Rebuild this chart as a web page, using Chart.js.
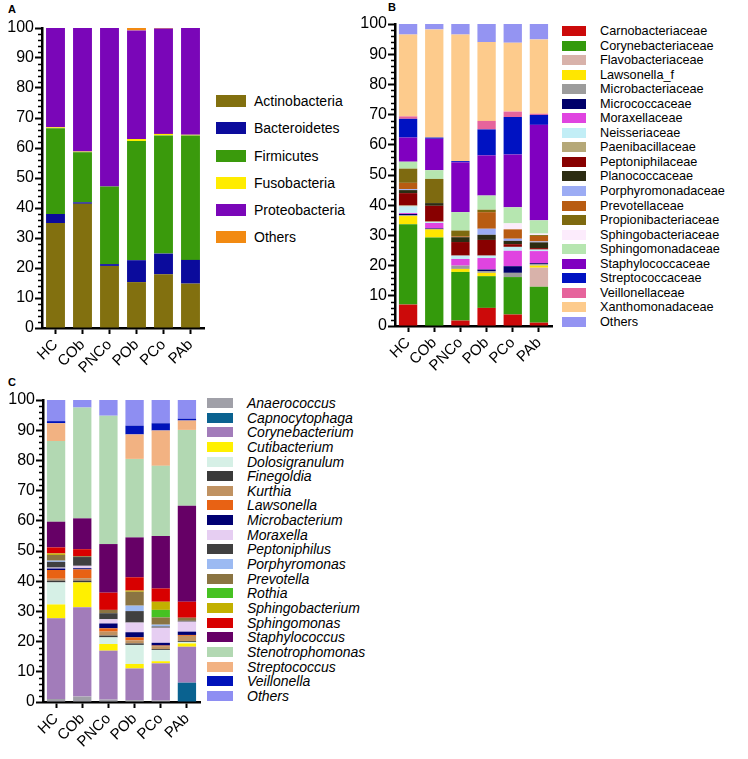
<!DOCTYPE html>
<html>
<head>
<meta charset="utf-8">
<script src="https://cdn.jsdelivr.net/npm/chart.js@4.4.1/dist/chart.umd.min.js"></script>
<style>
  body { margin: 0; background: #fff; width: 748px; height: 759px; position: relative; overflow: hidden; font-family: 'Liberation Sans', Arial, sans-serif; }
  .box { position: absolute; }
  .tag { position: absolute; font-weight: bold; font-size: 11px; color: #000; }
  .legend { position: absolute; color: #000; }
  .legend .row { display: flex; align-items: center; white-space: nowrap; }
  .legend .sw { flex: none; }
</style>
</head>
<body>

<div class="tag" style="left:8px;top:3px">A</div>
<div class="tag" style="left:388px;top:1px">B</div>
<div class="tag" style="left:8px;top:376px">C</div>

<canvas id="chartA" class="box" style="left:0;top:0" width="210" height="380"></canvas>
<canvas id="chartB" class="box" style="left:355px;top:0" width="200" height="380"></canvas>
<canvas id="chartC" class="box" style="left:0;top:380px" width="205" height="379"></canvas>

<div id="legendA" class="legend"></div>
<div id="legendB" class="legend"></div>
<div id="legendC" class="legend"></div>

<script>
// sample groups (x axis)
const groups = ["HC", "COb", "PNCo", "POb", "PCo", "PAb"]

// ---- panel A: phyla
const phyla = ["Actinobacteria", "Bacteroidetes", "Firmicutes", "Fusobacteria", "Proteobacteria", "Others"]
const phylaColors = ["#82700f", "#0b0b9c", "#3a9a0c", "#ffec00", "#7a06b8", "#f28a12"]
const phylaHC   = [35.0, 3.0, 28.6, 0.3, 33.1, 0]
const phylaCOb  = [41.4, 0.5, 16.7, 0.2, 41.2, 0]
const phylaPNCo = [20.7, 0.6, 25.9, 0, 52.8, 0]
const phylaPOb  = [15.3, 7.3, 39.7, 0.7, 36.2, 0.8]
const phylaPCo  = [17.9, 6.9, 39.4, 0.5, 35.1, 0.2]
const phylaPAb  = [14.8, 7.9, 41.5, 0.2, 35.6, 0]

// ---- panel B: families
const families = ["Carnobacteriaceae", "Corynebacteriaceae", "Flavobacteriaceae", "Lawsonella_f", "Microbacteriaceae",
  "Micrococcaceae", "Moraxellaceae", "Neisseriaceae", "Paenibacillaceae", "Peptoniphilaceae", "Planococcaceae",
  "Porphyromonadaceae", "Prevotellaceae", "Propionibacteriaceae", "Sphingobacteriaceae", "Sphingomonadaceae",
  "Staphylococcaceae", "Streptococcaceae", "Veillonellaceae", "Xanthomonadaceae", "Others"]
const familyColors = ["#cc0a0a", "#349a0c", "#d8b2aa", "#ffe600", "#9c9c9c", "#00006a", "#e044e0", "#c2eef6",
  "#b5a878", "#880000", "#2c2c12", "#9cacf4", "#b85c12", "#7e6a10", "#fcecfc", "#b6e6b0", "#8000c0", "#0012c2",
  "#e6649c", "#fdcb8c", "#9494f2"]
const familyHC   = [7.1, 26.6, 0, 2.7, 0.3, 0.4, 0.3, 2.2, 0.3, 4.1, 1.0, 0.3, 2.1, 4.7, 0, 2.3, 8.0, 6.2, 0.8, 27.1, 3.5]
const familyCOb  = [0, 29.3, 0, 2.7, 0, 0.3, 1.8, 0.3, 0.2, 5.2, 0.9, 0, 0, 8.0, 0, 2.9, 10.4, 0.4, 0, 35.8, 1.8]
const familyPNCo = [1.8, 16.1, 0, 1.0, 1.1, 0, 2.2, 1.1, 0, 4.5, 1.6, 0, 0.3, 1.9, 0, 6.1, 16.5, 0.4, 0, 41.9, 3.5]
const familyPOb  = [6.0, 10.5, 0, 1.1, 0.6, 0.5, 3.8, 0.8, 0, 5.2, 1.7, 2.0, 5.5, 0.8, 0, 4.7, 13.3, 8.6, 2.8, 26.1, 6.0]
const familyPCo  = [3.8, 12.4, 0, 0, 1.4, 2.2, 5.1, 1.3, 0, 0.9, 1.1, 0.7, 3.1, 0, 2.0, 5.3, 17.5, 12.4, 1.8, 22.8, 6.2]
const familyPAb  = [1.1, 11.9, 6.3, 0.7, 0.5, 0.3, 4.0, 0.5, 0, 0.5, 1.9, 0.3, 1.8, 0.3, 0.5, 4.4, 31.6, 3.3, 0.4, 24.6, 5.1]

// ---- panel C: genera
const genera = ["Anaerococcus", "Capnocytophaga", "Corynebacterium", "Cutibacterium", "Dolosigranulum", "Finegoldia",
  "Kurthia", "Lawsonella", "Microbacterium", "Moraxella", "Peptoniphilus", "Porphyromonas", "Prevotella", "Rothia",
  "Sphingobacterium", "Sphingomonas", "Staphylococcus", "Stenotrophomonas", "Streptococcus", "Veillonella", "Others"]
const genusColors = ["#a0a0a8", "#0a6290", "#a27cba", "#fff000", "#d6f0e6", "#3a3a3a", "#c09262", "#e86214",
  "#000072", "#e6cef2", "#404040", "#9cbaf2", "#8a7442", "#46c222", "#c2b000", "#d80000", "#660066", "#b2d8b2",
  "#f2b282", "#0012ba", "#8e8ef2"]
const genusHC   = [1.0, 0, 26.7, 4.6, 7.3, 0.6, 0.6, 2.9, 0.5, 0.3, 1.9, 0.4, 1.9, 0, 0.5, 2.0, 8.5, 26.7, 5.9, 0.7, 7.0]
const genusCOb  = [1.8, 0, 29.6, 8.2, 0, 0.6, 0.8, 2.9, 0.4, 0.8, 2.9, 0, 0.3, 0, 0, 2.3, 10.2, 36.7, 0, 0, 2.5]
const genusPNCo = [0.8, 0, 16.2, 2.2, 2.2, 0.6, 1.3, 1.1, 1.6, 1.4, 2.0, 0, 1.1, 0, 0, 5.7, 16.1, 42.5, 0, 0, 5.2]
const genusPOb  = [0.6, 0, 10.5, 1.5, 6.3, 0.5, 1.0, 1.0, 1.7, 3.2, 3.8, 1.8, 4.6, 0, 0.4, 4.4, 13.2, 26.0, 8.1, 2.9, 8.5]
const genusPCo  = [0.5, 0, 12.3, 0.7, 3.7, 0.3, 1.0, 0.2, 0.9, 5.0, 0.4, 0.6, 2.4, 2.5, 2.7, 4.4, 17.4, 23.2, 11.7, 2.4, 7.7]
const genusPAb  = [0, 6.4, 11.9, 1.1, 0.5, 0.3, 1.7, 0.3, 1.1, 3.3, 0.3, 0, 1.0, 0, 0, 5.3, 31.8, 25.1, 3.1, 0.6, 6.2]

const yTicks = [0, 10, 20, 30, 40, 50, 60, 70, 80, 90, 100]

Chart.defaults.font.family = "'Liberation Sans', Arial, sans-serif"
Chart.defaults.color = "#000"

// short ticks every 2 units between the labelled ones
const minorTicks = {
  id: "minorTicks",
  afterDraw(chart) {
    const y = chart.scales.y
    const left = chart.chartArea.left
    const ctx = chart.ctx
    ctx.save()
    ctx.strokeStyle = "#000"
    ctx.lineWidth = 1.5
    for (let v = 0; v <= 100; v += 2) {
      if (yTicks.includes(v)) continue
      const py = Math.round(y.getPixelForValue(v)) + 0.5
      ctx.beginPath()
      ctx.moveTo(left - 4, py)
      ctx.lineTo(left, py)
      ctx.stroke()
    }
    ctx.restore()
  }
}

function stackedChart(id, names, colors, rows, box) {
  // rows are per group, datasets are per taxon (first one sits at the bottom)
  const datasets = names.map((name, i) => ({
    label: name,
    data: rows.map(r => r[i]),
    backgroundColor: colors[i],
    borderWidth: 0,
    barPercentage: 0.7,
    categoryPercentage: 1
  }))

  return new Chart(document.getElementById(id), {
    type: "bar",
    data: { labels: groups, datasets: datasets },
    plugins: [minorTicks],
    options: {
      responsive: false,
      animation: false,
      layout: { padding: { top: box.top, right: box.right, left: 0, bottom: 0 } },
      plugins: { legend: { display: false }, tooltip: { enabled: false } },
      scales: {
        x: {
          stacked: true,
          afterFit: (s) => { s.height = box.bottom },
          grid: { offset: false, drawOnChartArea: false, tickLength: 6, tickWidth: 2, tickColor: "#000" },
          border: { color: "#000", width: 2.5 },
          ticks: { autoSkip: false, minRotation: 45, maxRotation: 45, padding: 2, font: { size: 15 } }
        },
        y: {
          stacked: true,
          min: 0,
          max: 100,
          afterFit: (s) => { s.width = box.left },
          afterBuildTicks: (s) => { s.ticks = yTicks.map(v => ({ value: v })) },
          grid: { drawOnChartArea: false, tickLength: 7, tickWidth: 2, tickColor: "#000" },
          border: { color: "#000", width: 2.5 },
          ticks: { padding: 1, font: { size: 16 } }
        }
      }
    }
  })
}

function buildLegend(id, names, colors, opt) {
  const el = document.getElementById(id)
  el.style.left = opt.left + "px"
  el.style.top = (opt.firstY - opt.step / 2) + "px"
  names.forEach((name, i) => {
    const row = document.createElement("div")
    row.className = "row"
    row.style.height = opt.step + "px"
    const sw = document.createElement("span")
    sw.className = "sw"
    sw.style.cssText = `width:${opt.boxW}px;height:${opt.boxH}px;background:${colors[i]};margin-right:${opt.gap}px`
    const txt = document.createElement("span")
    txt.textContent = name
    txt.style.fontSize = opt.size + "px"
    if (opt.italic) txt.style.fontStyle = "italic"
    row.appendChild(sw)
    row.appendChild(txt)
    el.appendChild(row)
  })
}

stackedChart("chartA", phyla, phylaColors,
  [phylaHC, phylaCOb, phylaPNCo, phylaPOb, phylaPCo, phylaPAb],
  { top: 28, right: 6, left: 42, bottom: 52 })

stackedChart("chartB", families, familyColors,
  [familyHC, familyCOb, familyPNCo, familyPOb, familyPCo, familyPAb],
  { top: 24, right: 3, left: 40, bottom: 54 })

stackedChart("chartC", genera, genusColors,
  [genusHC, genusCOb, genusPNCo, genusPOb, genusPCo, genusPAb],
  { top: 20, right: 5, left: 43, bottom: 57 })

buildLegend("legendA", phyla, phylaColors, { left: 216, firstY: 101, step: 27.3, boxW: 30, boxH: 12, gap: 8, size: 14 })
buildLegend("legendB", families, familyColors, { left: 562, firstY: 31, step: 14.55, boxW: 24, boxH: 10, gap: 14, size: 12.7 })
buildLegend("legendC", genera, genusColors, { left: 207, firstY: 403, step: 14.65, boxW: 26, boxH: 10, gap: 14, size: 14, italic: true })
</script>
</body>
</html>
